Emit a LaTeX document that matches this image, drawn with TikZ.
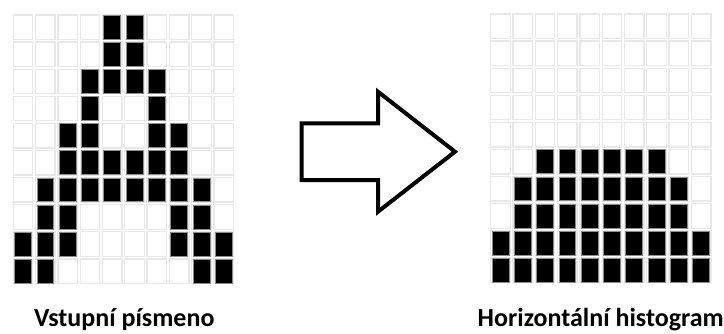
\documentclass[tikz,border=0pt]{standalone}
\usepackage{fontspec}
\setmainfont{Carlito}
\begin{document}
\begin{tikzpicture}[x=1pt,y=-1pt,
  emptycell/.style={draw=black!9,line width=1.3pt},
  fullcell/.style={fill=black,draw=black!45,line width=0.7pt},
  caption/.style={font=\fontsize{26}{30}\selectfont\bfseries,anchor=base,inner sep=0pt},
  bigarrow/.style={draw=black,line width=4pt,line join=miter,fill=white}]
\useasboundingbox (0,0) rectangle (724,333);
% cell pitch and size
\def\dx{22.3}\def\dy{27.1}\def\cw{19.5}\def\ch{24.5}
% input letter "A" on a 10x10 grid
\begin{scope}[shift={(13.3,15)}]
  \foreach \i in {0,...,9}{\foreach \j in {0,...,9}{
    \draw[emptycell] (\i*\dx,\j*\dy) rectangle ++(\cw,\ch);}}
  \foreach \r/\cs in {1/{5,6},2/{5,6},3/{4,5,6,7},4/{4,7},5/{3,4,7,8},
      6/{3,4,5,6,7,8},7/{2,3,4,5,6,7,8,9},8/{2,3,8,9},9/{1,2,3,8,9,10},10/{1,2,9,10}}{
    \foreach \c in \cs {
      \draw[fullcell] ({(\c-1)*\dx+1.3},{(\r-1)*\dy+0.3}) rectangle ++(\cw-2.6,\ch-0.6);}}
\end{scope}
% horizontal histogram on a 10x10 grid
\begin{scope}[shift={(490.7,14)}]
  \foreach \i in {0,...,9}{\foreach \j in {0,...,9}{
    \draw[emptycell] (\i*\dx,\j*\dy) rectangle ++(\cw,\ch);}}
  \foreach \r/\cs in {6/{3,4,5,6,7,8},7/{2,3,4,5,6,7,8,9},8/{2,3,4,5,6,7,8,9},
      9/{1,2,3,4,5,6,7,8,9,10},10/{1,2,3,4,5,6,7,8,9,10}}{
    \foreach \c in \cs {
      \draw[fullcell] ({(\c-1)*\dx+1.3},{(\r-1)*\dy+0.3}) rectangle ++(\cw-2.6,\ch-0.6);}}
\end{scope}
% block arrow between the grids
\coordinate (tailtop) at (301.7,123.3);
\coordinate (tip) at (455,151.7);
\draw[bigarrow] (tailtop) -- (378,123.3) -- (378,91.7) -- (tip)
  -- (378,211.7) -- (378,180) -- (301.7,180) -- cycle;
% captions
\node[caption] (inlabel) at (124.3,326.7) {Vstupní písmeno};
\node[caption] (outlabel) at (600.7,326.7) {Horizontální histogram};
\end{tikzpicture}
\end{document}
